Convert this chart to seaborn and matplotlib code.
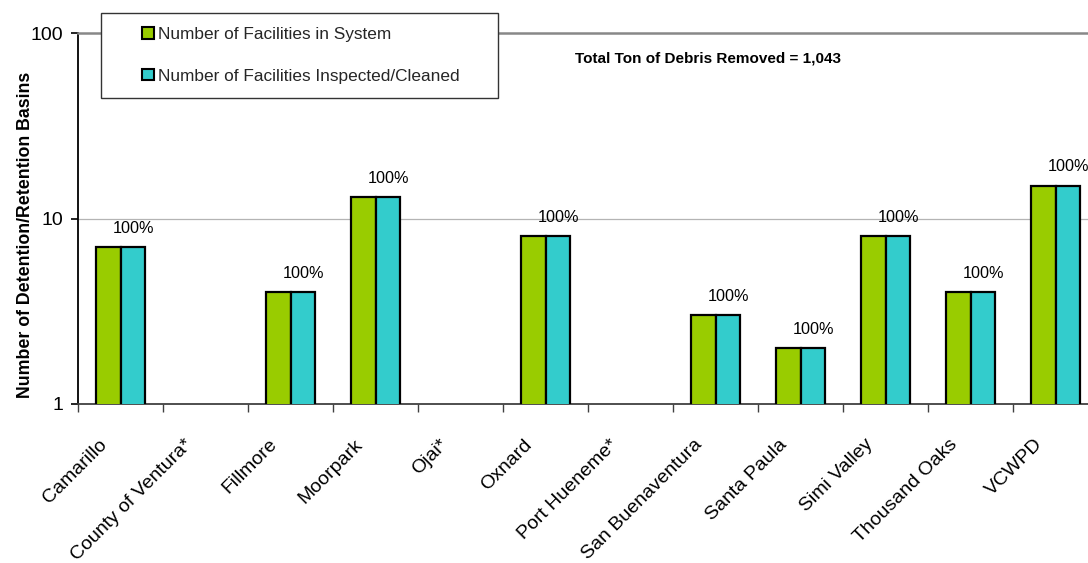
import numpy as np
import pandas as pd
import matplotlib
matplotlib.use("Agg")
import matplotlib.pyplot as plt
import matplotlib.transforms as mtransforms
from matplotlib.patches import Patch, Rectangle
import seaborn as sns

# ---- data ----
agencies = ["Camarillo", "County of Ventura*", "Fillmore", "Moorpark", "Ojai*",
            "Oxnard", "Port Hueneme*", "San Buenaventura", "Santa Paula",
            "Simi Valley", "Thousand Oaks", "VCWPD"]
facilities_in_system = [7, 0, 4, 13, 0, 8, 0, 3, 2, 8, 4, 15]
facilities_inspected = [7, 0, 4, 13, 0, 8, 0, 3, 2, 8, 4, 15]
series_names = ["Number of Facilities in System",
                "Number of Facilities Inspected/Cleaned"]
series_colors = ["#99CC00", "#33CCCC"]
y_ticks = [1, 10, 100]
y_tick_labels = ["1", "10", "100"]
debris_note = "Total Ton of Debris Removed = 1,043"

df = pd.DataFrame({
    "agency": agencies * 2,
    "series": [series_names[0]] * len(agencies) + [series_names[1]] * len(agencies),
    "count": facilities_in_system + facilities_inspected,
})

sns.set_theme(style="white")
plt.rcParams["font.family"] = ["Liberation Sans", "DejaVu Sans"]

W, H = 1088, 563
fig = plt.figure(figsize=(W / 100, H / 100), dpi=100)
ax = fig.add_axes([78.4 / W, 1 - 404 / H, 1020 / W, 371 / H])

sns.barplot(data=df, x="agency", y="count", hue="series", order=agencies,
            hue_order=series_names, palette=series_colors, saturation=1,
            width=0.575, edgecolor="black", linewidth=1.6, ax=ax,
            legend=False, zorder=3)

ax.set_yscale("log")
ax.set_ylim(1, 100)
ax.set_xlim(-0.5, len(agencies) - 0.5)

# percentage inspected above each agency's second bar
for bar, tot, insp in zip(ax.containers[1], facilities_in_system, facilities_inspected):
    if tot > 0:
        xc = bar.get_x() + bar.get_width() / 2
        ax.annotate(f"{insp / tot:.0%}", xy=(xc, bar.get_height()),
                    xytext=(0, 10.5), textcoords="offset points",
                    ha="center", va="baseline", fontsize=11.7, color="black",
                    zorder=4)

# y axis
ax.yaxis.set_major_locator(matplotlib.ticker.FixedLocator(y_ticks))
ax.yaxis.set_major_formatter(matplotlib.ticker.FixedFormatter(y_tick_labels))
ax.yaxis.set_minor_locator(matplotlib.ticker.NullLocator())
ax.tick_params(axis="y", which="major", left=True, length=5, width=1.2,
               color="black", pad=6, labelsize=14, labelcolor="black")
ax.axhline(10, color="#b4b4b4", lw=0.9, zorder=1)

# x axis: labels at categories, tick marks at category boundaries
ax.set_xticks(np.arange(len(agencies)))
ax.set_xticklabels(agencies)
ax.set_xticks(np.arange(len(agencies) + 1) - 0.5, minor=True)
ax.tick_params(axis="x", which="major", bottom=True, length=0, pad=23,
               labelsize=14, labelcolor="black")
ax.tick_params(axis="x", which="minor", bottom=True, length=6, width=1.0,
               color="#404040")
shift = mtransforms.ScaledTranslation(-10 / 100, 0, fig.dpi_scale_trans)
for lab in ax.get_xticklabels():
    lab.set_rotation(45)
    lab.set_ha("right")
    lab.set_va("top")
    lab.set_transform(lab.get_transform() + shift)

ax.set_xlabel("")
ax.set_ylabel("Number of Detention/Retention Basins", fontsize=12.8,
              fontweight="bold", color="black")
ax.yaxis.set_label_coords(-0.044, 0.455)

for side in ["left", "bottom", "top", "right"]:
    ax.spines[side].set_visible(True)
ax.spines["left"].set_color("black")
ax.spines["left"].set_linewidth(1.3)
ax.spines["bottom"].set_color("#404040")
ax.spines["bottom"].set_linewidth(1.3)
ax.spines["top"].set_color("#888888")
ax.spines["top"].set_linewidth(1.8)
ax.spines["right"].set_visible(False)

# legend box
fig.patches.append(Rectangle((100.7 / W, 1 - 97.7 / H), 397.3 / W, 85 / H,
                             transform=fig.transFigure, facecolor="white",
                             edgecolor="#333333", lw=1.0, zorder=5))
handles = [Patch(facecolor=c, edgecolor="black", linewidth=1.5) for c in series_colors]
leg = fig.legend(handles, series_names, loc="upper left",
                 bbox_to_anchor=(141.5 / W, 1 - 27 / H), frameon=False,
                 fontsize=12.4, handlelength=0.72, handleheight=0.62,
                 handletextpad=0.25, labelspacing=1.55, borderpad=0,
                 borderaxespad=0)
leg.set_zorder(6)

fig.text(575 / W, 1 - 62.5 / H, debris_note, fontsize=11, fontweight="bold",
         ha="left", va="baseline", color="black")

fig.savefig("out.png", dpi=100)
